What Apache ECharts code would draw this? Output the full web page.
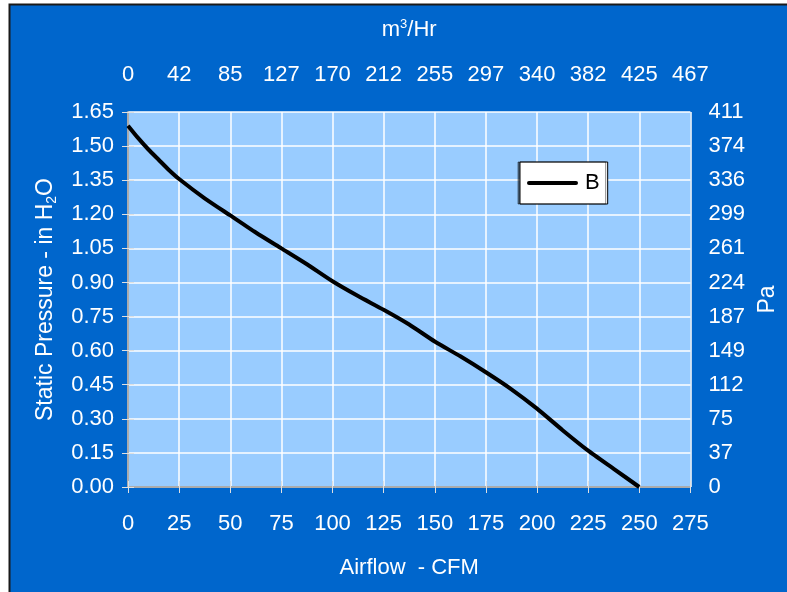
<!DOCTYPE html>
<html>
<head>
<meta charset="utf-8">
<script src="https://cdn.jsdelivr.net/npm/echarts@6/dist/echarts.min.js"></script>
<style>
html,body{margin:0;padding:0;background:#fff;overflow:hidden;width:787px;height:592px;}
#c{position:absolute;left:0;top:0;width:787px;height:592px;}
</style>
</head>
<body>
<div id="c"></div>
<script>
// ---- data ----
const airflowCFM = [0, 5, 10, 15, 20, 25, 37.5, 50, 62.5, 75, 87.5, 100, 112.5, 125, 137.5, 150, 162.5, 175, 187.5, 200, 212.5, 225, 237.5, 250];
const pressureInH2O = [1.59, 1.535, 1.485, 1.44, 1.395, 1.355, 1.27, 1.195, 1.12, 1.05, 0.98, 0.905, 0.84, 0.78, 0.715, 0.64, 0.575, 0.505, 0.43, 0.345, 0.25, 0.16, 0.08, 0];
const seriesName = 'B';
const m3hrTickLabels = ['0', '42', '85', '127', '170', '212', '255', '297', '340', '382', '425', '467'];
const paTickLabels = ['0', '37', '75', '112', '149', '187', '224', '261', '299', '336', '374', '411'];

const REG = '"Liberation Sans",Arial,sans-serif';
const WHITE = '#ffffff';

const chart = echarts.init(document.getElementById('c'), null, {renderer: 'canvas', width: 787, height: 592});

const tickLabel = {color: WHITE, fontFamily: REG, fontSize: 22};
const axisLineStyle = {show: true, lineStyle: {color: '#a8a8a8', width: 1.5}};
const tickStyle = {show: true, inside: false, length: 6, lineStyle: {color: '#e0e0e0', width: 1}};

chart.setOption({
  backgroundColor: '#ffffff',
  animation: false,
  graphic: [{
    type: 'rect', z: -10, silent: true,
    shape: {x: 9.5, y: 4.5, width: 800, height: 600},
    style: {fill: '#0066CC', stroke: '#1a1a1a', lineWidth: 2}
  }],
  grid: {left: 128, top: 112, width: 566, height: 375, show: true, backgroundColor: '#99CCFF', borderWidth: 0},
  legend: {
    left: 520, top: 162,
    orient: 'vertical',
    backgroundColor: '#ffffff', borderColor: '#000000', borderWidth: 1,
    shadowColor: 'rgba(0,0,0,0.45)', shadowOffsetX: -2, shadowOffsetY: 0, shadowBlur: 0,
    padding: [10, 8, 10, 7],
    itemWidth: 51, itemHeight: 25, itemGap: 5,
    textStyle: {color: '#000', fontFamily: REG, fontSize: 22, padding: [0, 0, 0, 2]},
    data: [{name: seriesName, icon: 'path://M2,0 L49,0 A2,2 0 0 1 49,4 L2,4 A2,2 0 0 1 2,0 Z', itemStyle: {color: '#000'}}]
  },
  xAxis: [{
    type: 'value', position: 'bottom', min: 0, max: 275, interval: 25,
    name: 'Airflow  - CFM', nameLocation: 'middle', nameGap: 70,
    nameTextStyle: {color: WHITE, fontFamily: REG, fontSize: 22},
    axisLine: axisLineStyle, axisTick: tickStyle,
    axisLabel: Object.assign({margin: 26}, tickLabel),
    splitLine: {show: true, lineStyle: {color: '#ffffff', width: 1.5}}
  }, {
    type: 'value', position: 'top', min: 0, max: 275, interval: 25,
    name: '{a|m}{s|3}{a|/Hr}', nameLocation: 'middle', nameGap: 71,
    nameTextStyle: {color: WHITE, rich: {
      a: {color: WHITE, fontFamily: REG, fontSize: 22},
      s: {color: WHITE, fontFamily: REG, fontSize: 13, verticalAlign: 'top', padding: [0, 0, 10, 0]}
    }},
    axisLine: axisLineStyle, axisTick: tickStyle,
    axisLabel: Object.assign({margin: 26, formatter: v => m3hrTickLabels[Math.round(v / 25)]}, tickLabel),
    splitLine: {show: false}
  }],
  yAxis: [{
    type: 'value', position: 'left', min: 0, max: 1.65, interval: 0.15,
    name: '{a|Static Pressure - in H}{s|2}{a|O}', nameLocation: 'middle', nameGap: 69,
    nameTextStyle: {color: WHITE, rich: {
      a: {color: WHITE, fontFamily: REG, fontSize: 23},
      s: {color: WHITE, fontFamily: REG, fontSize: 14, padding: [12, 0, 0, 0]}
    }},
    axisLine: axisLineStyle, axisTick: tickStyle,
    axisLabel: Object.assign({margin: 14, formatter: v => v.toFixed(2)}, tickLabel),
    splitLine: {show: true, lineStyle: {color: '#ffffff', width: 1.5}}
  }, {
    type: 'value', position: 'right', min: 0, max: 1.65, interval: 0.15,
    name: 'Pa', nameLocation: 'middle', nameGap: 64, nameRotate: 90,
    nameTextStyle: {color: WHITE, fontFamily: REG, fontSize: 23},
    axisLine: axisLineStyle, axisTick: tickStyle,
    axisLabel: Object.assign({margin: 18, formatter: v => paTickLabels[Math.round(v / 0.15)]}, tickLabel),
    splitLine: {show: false}
  }],
  series: [{
    name: seriesName, type: 'line', xAxisIndex: 0, yAxisIndex: 0,
    data: airflowCFM.map((x, i) => [x, pressureInH2O[i]]),
    symbol: 'none', smooth: 0.2,
    lineStyle: {color: '#000000', width: 4},
    itemStyle: {color: '#000000'}
  }]
});
</script>
</body>
</html>
